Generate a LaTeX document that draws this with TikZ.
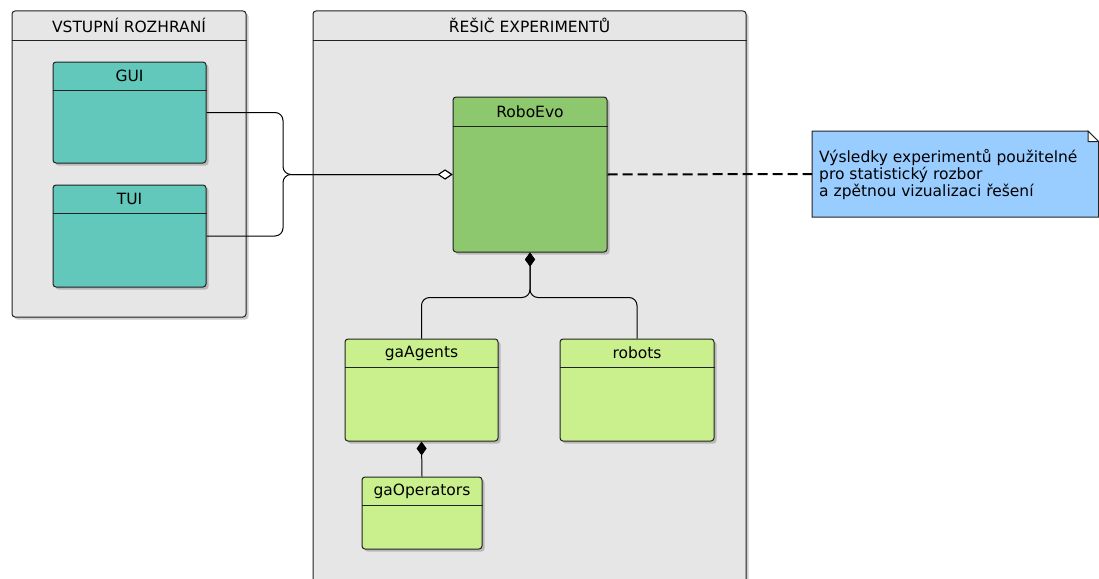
\documentclass[tikz,border=0pt]{standalone}
\usepackage{fontspec}
\setmainfont{DejaVu Sans}
\usetikzlibrary{arrows.meta,shadows}
\definecolor{pkgfill}{HTML}{E6E6E6}
\definecolor{teal}{HTML}{62C8BC}
\definecolor{roboc}{HTML}{8DC86E}
\definecolor{lgreen}{HTML}{C9F08C}
\definecolor{noteblue}{HTML}{99CCFF}
\definecolor{edge}{HTML}{222222}
\tikzset{
  shd/.style={drop shadow={shadow xshift=2.5pt,shadow yshift=-2.5pt,opacity=0.2,fill=black}},
  pkgbox/.style={draw=edge,line width=1pt,fill=pkgfill,rounded corners=3pt,shd,inner sep=0pt},
  clsbox/.style={draw=edge,line width=1pt,rounded corners=3pt,shd,inner sep=0pt},
  lbl/.style={font=\fontsize{15.5}{17}\selectfont,inner sep=0pt},
  conn/.style={draw=black,line width=1pt,rounded corners=8pt},
  comp/.style={{Diamond[length=14pt,width=10pt]}-},
  aggr/.style={-{Diamond[open,length=15pt,width=10pt,fill=white]}},
}
% #1 name, #2 cx, #3 cy, #4 w, #5 h, #6 fill, #7 title, #8 header height, #9 style
\newcommand\mkbox[9]{%
  \node[#9,fill=#6,minimum width=#4pt,minimum height=#5pt] (#1) at (#2,#3) {};
  \draw[edge,line width=1pt] ([yshift=-#8pt]#1.north west) -- ([yshift=-#8pt]#1.north east);
  \node[lbl] (#1-t) at ([yshift=-#8pt/2]#1.north) {#7};
}
\begin{document}
\begin{tikzpicture}[x=1pt,y=-1pt]
\useasboundingbox (0,0) rectangle (1099,578);
\clip (0,0) rectangle (1099,578);
% packages
\mkbox{pkgA}{129}{164}{234}{306}{pkgfill}{VSTUPNÍ ROZHRANÍ}{30}{pkgbox}
\mkbox{pkgB}{529.5}{300}{433}{578}{pkgfill}{ŘEŠIČ EXPERIMENTŮ}{30}{pkgbox}
% classes
\mkbox{gui}{129.5}{112.5}{153}{101}{teal}{GUI}{29}{clsbox}
\mkbox{tui}{129.5}{236}{153}{102}{teal}{TUI}{29}{clsbox}
\mkbox{robo}{530}{174.5}{154}{155}{roboc}{RoboEvo}{30}{clsbox}
\mkbox{gaag}{421.5}{390}{153}{102}{lgreen}{gaAgents}{29}{clsbox}
\mkbox{robots}{637}{390}{154}{102}{lgreen}{robots}{29}{clsbox}
\mkbox{gaop}{422}{513}{120}{72}{lgreen}{gaOperators}{29}{clsbox}
% note
\coordinate (notew) at (812,174);
\path[fill=noteblue,draw=edge,line width=1pt] (812,131) -- (1088,131) -- (1098.5,141.5) -- (1098.5,217) -- (812,217) -- cycle;
\path[fill=white,draw=edge,line width=1pt] (1088,131) -- (1088,141.5) -- (1098.5,141.5) -- cycle;
\node[lbl,anchor=west,align=left] (note) at (819,175) {Výsledky experimentů použitelné\\pro statistický rozbor\\a zpětnou vizualizaci řešení};
% connectors
\draw[conn,aggr] (gui.east) -- (283,112.5) -- (283,174.5) -- (robo.west);
\draw[conn,aggr] (tui.east) -- (283,236) -- (283,174.5) -- (robo.west);
\draw[line width=2pt,dash pattern=on 10pt off 5pt] (robo.east) -- (notew);
\draw[conn,comp] (robo.south) -- (530,297.5) -| (gaag.north);
\draw[conn,comp] (robo.south) -- (530,297.5) -| (robots.north);
\draw[conn,comp] (gaag.south) -- (gaop.north);
\end{tikzpicture}
\end{document}
